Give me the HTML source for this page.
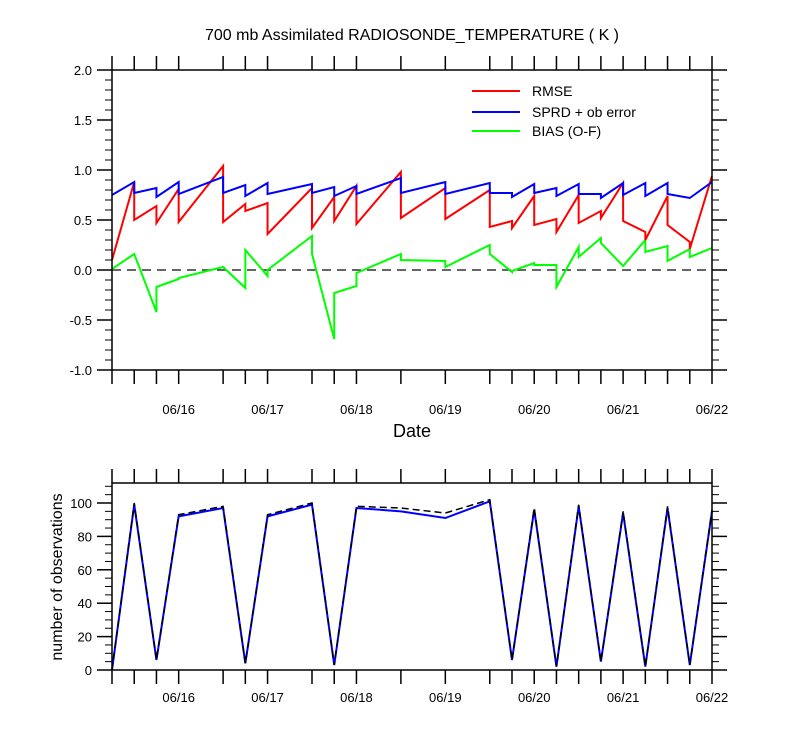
<!DOCTYPE html>
<html><head><meta charset="utf-8"><style>
body{margin:0;background:#fff;}
svg text{font-family:"Liberation Sans",Arial,sans-serif;fill:#000;}
</style></head><body>
<svg id="chart" width="800" height="750" xmlns="http://www.w3.org/2000/svg">
<text x="412" y="40" font-size="16" text-anchor="middle">700 mb Assimilated RADIOSONDE_TEMPERATURE ( K )</text>
<text x="412" y="437" font-size="18" text-anchor="middle">Date</text>
<text transform="translate(62,577) rotate(-90)" font-size="16" text-anchor="middle">number of observations</text>
<g id="topPanel"></g>
<g id="botPanel"></g>
<g>
<line x1="472" y1="91" x2="520" y2="91" stroke="#ff0000" stroke-width="2"/>
<text x="532" y="96" font-size="14">RMSE</text>
<line x1="472" y1="112" x2="520" y2="112" stroke="#0000ff" stroke-width="2"/>
<text x="532" y="117" font-size="14">SPRD + ob error</text>
<line x1="472" y1="131" x2="520" y2="131" stroke="#00ff00" stroke-width="2"/>
<text x="532" y="136" font-size="14">BIAS (O-F)</text>
</g>
</svg>
<script>
const hours=[0,6,12,18,30,36,42,54,60,66,78,90,102,108,114,120,126,132,138,144,150,156,162];
const dayLabels=["06/16","06/17","06/18","06/19","06/20","06/21","06/22"];
const dayHours=[18,42,66,90,114,138,162];
const rmseFirst=[0.10,0.88,0.64,0.81,1.04,0.66,0.67,0.82,0.73,0.84,0.98,0.82,0.80,0.49,0.74,0.51,0.75,0.59,0.87,0.38,0.74,0.28,0.94];
const rmseSecond=[0.10,0.50,0.47,0.48,0.48,0.59,0.36,0.42,0.49,0.46,0.52,0.51,0.43,0.42,0.45,0.38,0.47,0.52,0.49,0.30,0.45,0.21,0.94];
const sprdFirst=[0.75,0.88,0.82,0.88,0.93,0.85,0.87,0.86,0.83,0.84,0.92,0.88,0.87,0.77,0.86,0.82,0.86,0.76,0.87,0.87,0.87,0.72,0.88];
const sprdSecond=[0.75,0.77,0.73,0.76,0.77,0.74,0.76,0.77,0.74,0.76,0.77,0.76,0.77,0.73,0.77,0.74,0.76,0.72,0.75,0.74,0.76,0.72,0.88];
const biasFirst=[0.01,0.16,-0.42,-0.09,0.03,-0.18,-0.06,0.34,-0.69,-0.16,0.16,0.09,0.25,-0.02,0.07,0.05,0.23,0.32,0.04,0.30,0.24,0.21,0.22];
const biasSecond=[0.01,0.16,-0.17,-0.08,0.03,0.20,0.00,0.16,-0.23,-0.03,0.10,0.03,0.16,-0.01,0.05,-0.17,0.13,0.27,0.04,0.18,0.09,0.13,0.22];
const obsUsed=[0,99,6,92,97,4,92,99,3,97,95,91,101,6,96,2,98,5,94,2,97,3,95];
const obsTotal=[0,100,6,93,98,4,93,100,3,98,97,94,102,6,97,2,99,5,95,2,98,3,96];
const topTicks=["-1.0","-0.5","0.0","0.5","1.0","1.5","2.0"];
const botTicks=["0","20","40","60","80","100"];

const NS="http://www.w3.org/2000/svg";
const X0=112,X1=712;
const xs=h=>X0+(X1-X0)*h/162;
const yTop=v=>270-100*v;
const yBot=v=>670-1.67*v;
function mk(tag,attrs,parent){const e=document.createElementNS(NS,tag);for(const k in attrs)e.setAttribute(k,attrs[k]);parent.appendChild(e);return e;}
function line(p,x1,y1,x2,y2,w,c){return mk('line',{x1,y1,x2,y2,stroke:c||'#000','stroke-width':w||1},p);}

function frame(g,yt,yb,ticks,yfn,minor,minV,maxV,name,labOff){
  const r=mk('rect',{x:X0,y:yt,width:X1-X0,height:yb-yt,fill:'none',stroke:'#000','stroke-width':1.5},g);
  
  
  hours.forEach(h=>{const x=xs(h);line(g,x,yt-14,x,yt,1.5);line(g,x,yb,x,yb+14,1.5);});
  for(let v=minV;v<=maxV+1e-9;v+=minor){const y=yfn(v);line(g,X0-7,y,X0,y,1);line(g,X1,y,X1+7,y,1);}
  ticks.forEach(t=>{const v=parseFloat(t);const y=yfn(v);line(g,X0-15,y,X0,y,1.5);line(g,X1,y,X1+15,y,1.5);
    const tx=mk('text',{x:X0-20,y:y+5,'font-size':13,'text-anchor':'end'},g);tx.textContent=t;
    
    });
  dayLabels.forEach((d,i)=>{const tx=mk('text',{x:xs(dayHours[i]),y:yb+labOff,'font-size':13,'text-anchor':'middle'},g);tx.textContent=d;
    
    });
}
function saw(g,first,second,yfn,color,name){
  let pts=[];hours.forEach((h,i)=>{pts.push(xs(h)+','+yfn(first[i]));pts.push(xs(h)+','+yfn(second[i]));});
  const p=mk('polyline',{points:pts.join(' '),fill:'none',stroke:color,'stroke-width':2},g);
  
  
}
const topG=document.getElementById('topPanel');
const zl=line(topG,X0,yTop(0),X1,yTop(0),1.5,'#333');
zl.setAttribute('stroke-dasharray','9,6');


saw(topG,biasFirst,biasSecond,yTop,'#00ff00','bias-line');
saw(topG,rmseFirst,rmseSecond,yTop,'#ff0000','rmse-line');
saw(topG,sprdFirst,sprdSecond,yTop,'#0000ff','sprd-line');
frame(topG,70,370,topTicks,yTop,0.1,-1,2,'top',44);

const botG=document.getElementById('botPanel');
let pb=hours.map((h,i)=>xs(h)+','+yBot(obsUsed[i])).join(' ');
const pl=mk('polyline',{points:pb,fill:'none',stroke:'#0000ff','stroke-width':2},botG);


let pt=hours.map((h,i)=>xs(h)+','+yBot(obsTotal[i])).join(' ');
const pl2=mk('polyline',{points:pt,fill:'none',stroke:'#000','stroke-width':1.5,'stroke-dasharray':'7,4'},botG);


frame(botG,483,670,botTicks,yBot,5,0,110,'bottom',32);
</script>
</body></html>
